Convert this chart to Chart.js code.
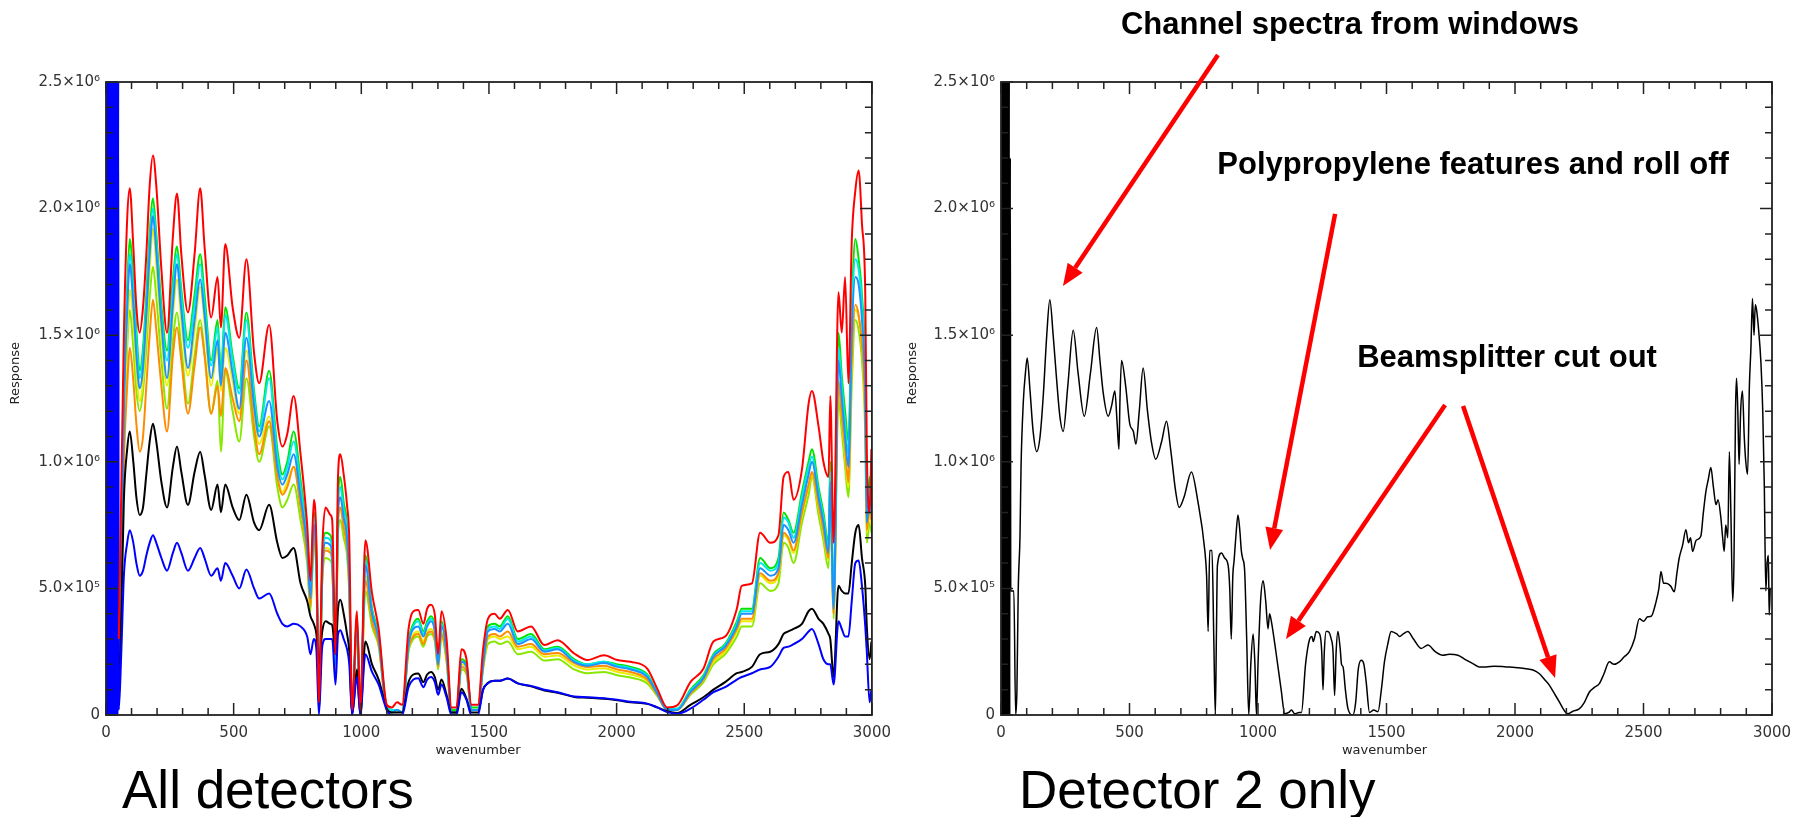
<!DOCTYPE html>
<html>
<head>
<meta charset="utf-8">
<title>Detector response spectra</title>
<script src="https://cdn.jsdelivr.net/npm/chart.js@4.4.1/dist/chart.umd.min.js"></script>
<style>
  html, body { margin: 0; padding: 0; background: #fff; }
  body { width: 1805px; height: 817px; position: relative; overflow: hidden; }
  canvas { position: absolute; top: 0; }
  #allChart { left: 0; }
  #det2Chart { left: 900px; }
  .caption { position: absolute; top: 763px; font-family: "Liberation Sans", Arial, sans-serif;
             font-size: 53px; line-height: 53px; color: #000; white-space: nowrap; }
</style>
</head>
<body>
<canvas id="allChart" width="900" height="817"></canvas>
<canvas id="det2Chart" width="905" height="817"></canvas>
<div class="caption" style="left:122px">All detectors</div>
<div class="caption" style="left:1019px">Detector 2 only</div>
<script>
// response values are in units of 1e6

// shared wavenumber grid for the all-detector traces
const wavenumber = [
  50, 60, 70, 83, 93, 107, 119, 132, 145, 158,
  171, 184, 197, 217, 239, 262, 278, 295, 321, 347,
  369, 386, 412, 437, 450, 467, 496, 522, 550, 580,
  600, 639, 671, 691, 710, 735, 762, 788, 801, 814,
  824, 834, 847, 860, 879, 886, 899, 909, 918, 931,
  944, 953, 964, 983, 996, 1016, 1042, 1068, 1100, 1120,
  1140, 1160, 1185, 1204, 1223, 1243, 1258, 1273, 1288, 1301,
  1314, 1334, 1353, 1373, 1392, 1412, 1431, 1457, 1477, 1496,
  1522, 1542, 1574, 1613, 1665, 1717, 1769, 1834, 1886, 1951,
  2003, 2055, 2120, 2159, 2198, 2237, 2289, 2340, 2379, 2425,
  2471, 2490, 2530, 2562, 2602, 2634, 2654, 2673, 2693, 2726,
  2752, 2765, 2791, 2810, 2830, 2837, 2850, 2869, 2882, 2895,
  2908, 2921, 2935, 2948, 2961, 2974, 2980, 2991, 2998
];

// one trace per detector, named by plot colour
const respRed = [
  0.30, 0.90, 1.50, 1.96, 2.08, 1.85, 1.61, 1.51, 1.61, 1.82,
  2.09, 2.21, 2.09, 1.76, 1.51, 1.89, 2.06, 1.82, 1.59, 1.82,
  2.08, 1.85, 1.57, 1.73, 1.53, 1.86, 1.61, 1.49, 1.80, 1.43,
  1.31, 1.54, 1.16, 1.06, 1.11, 1.26, 1.03, 0.75, 0.53, 0.85,
  0.69, 0.05, 0.65, 0.82, 0.79, 0.77, 0.24, 0.95, 1.03, 0.95,
  0.83, 0.69, 0.02, 0.41, 0.02, 0.69, 0.48, 0.34, 0.04, 0.03,
  0.05, 0.04, 0.34, 0.41, 0.415, 0.36, 0.42, 0.435, 0.395, 0.24,
  0.41, 0.30, 0.03, 0.03, 0.26, 0.22, 0.04, 0.04, 0.26, 0.38,
  0.40, 0.38, 0.415, 0.33, 0.35, 0.276, 0.295, 0.243, 0.217, 0.236,
  0.217, 0.21, 0.183, 0.104, 0.03, 0.038, 0.13, 0.183, 0.29, 0.31,
  0.42, 0.51, 0.52, 0.72, 0.68, 0.71, 0.94, 0.96, 0.85, 0.97,
  1.23, 1.28, 1.14, 1.00, 0.94, 1.26, 0.68, 1.67, 1.51, 1.73,
  1.31, 1.87, 2.07, 2.15, 1.94, 1.66, 1.05, 0.80, 1.05
];
const respGreen = [
  0.10, 0.60, 1.30, 1.69, 1.88, 1.72, 1.52, 1.36, 1.45, 1.66,
  1.90, 2.04, 1.90, 1.62, 1.44, 1.72, 1.85, 1.68, 1.48, 1.66,
  1.82, 1.66, 1.40, 1.56, 1.35, 1.61, 1.42, 1.29, 1.59, 1.28,
  1.14, 1.36, 1.05, 0.95, 1.00, 1.12, 0.93, 0.70, 0.50, 0.80,
  0.64, 0.03, 0.60, 0.72, 0.71, 0.66, 0.21, 0.86, 0.94, 0.84,
  0.75, 0.55, 0.01, 0.39, 0.01, 0.63, 0.42, 0.32, 0.03, 0.02,
  0.02, 0.01, 0.29, 0.36, 0.38, 0.33, 0.37, 0.39, 0.35, 0.21,
  0.37, 0.26, 0.02, 0.02, 0.22, 0.20, 0.03, 0.03, 0.22, 0.35,
  0.36, 0.35, 0.39, 0.30, 0.32, 0.26, 0.27, 0.22, 0.20, 0.21,
  0.20, 0.19, 0.16, 0.09, 0.025, 0.025, 0.10, 0.157, 0.24, 0.28,
  0.37, 0.42, 0.42, 0.62, 0.58, 0.62, 0.80, 0.77, 0.72, 0.88,
  1.00, 1.05, 0.90, 0.80, 0.68, 1.00, 0.45, 1.51, 1.34, 1.20,
  1.08, 1.60, 1.88, 1.80, 1.66, 1.34, 0.80, 0.94, 0.85
];
const respCyan = [
  0.10, 0.60, 1.25, 1.65, 1.82, 1.68, 1.48, 1.33, 1.42, 1.62,
  1.86, 2.00, 1.87, 1.58, 1.40, 1.68, 1.82, 1.65, 1.45, 1.62,
  1.78, 1.62, 1.38, 1.53, 1.33, 1.58, 1.40, 1.27, 1.56, 1.26,
  1.12, 1.33, 1.02, 0.93, 0.98, 1.08, 0.90, 0.68, 0.48, 0.78,
  0.62, 0.03, 0.58, 0.70, 0.69, 0.64, 0.20, 0.83, 0.90, 0.81,
  0.73, 0.53, 0.01, 0.38, 0.01, 0.61, 0.41, 0.31, 0.03, 0.02,
  0.02, 0.01, 0.28, 0.35, 0.37, 0.32, 0.36, 0.38, 0.34, 0.20,
  0.36, 0.25, 0.01, 0.01, 0.21, 0.19, 0.02, 0.02, 0.21, 0.34,
  0.35, 0.34, 0.38, 0.29, 0.31, 0.255, 0.265, 0.215, 0.20, 0.21,
  0.195, 0.185, 0.155, 0.088, 0.025, 0.025, 0.095, 0.15, 0.235, 0.275,
  0.36, 0.41, 0.41, 0.60, 0.57, 0.60, 0.78, 0.76, 0.70, 0.86,
  0.98, 1.02, 0.88, 0.78, 0.66, 0.96, 0.43, 1.45, 1.30, 1.15,
  1.03, 1.55, 1.80, 1.76, 1.62, 1.30, 0.78, 0.90, 0.82
];
const respAzure = [
  0.10, 0.55, 1.20, 1.60, 1.78, 1.62, 1.42, 1.29, 1.37, 1.58,
  1.82, 1.97, 1.83, 1.55, 1.33, 1.62, 1.78, 1.60, 1.37, 1.56,
  1.72, 1.58, 1.33, 1.48, 1.30, 1.51, 1.35, 1.21, 1.49, 1.22,
  1.10, 1.24, 0.98, 0.91, 0.95, 1.03, 0.86, 0.66, 0.46, 0.75,
  0.60, 0.02, 0.56, 0.68, 0.67, 0.62, 0.20, 0.80, 0.86, 0.78,
  0.70, 0.52, 0.01, 0.37, 0.01, 0.59, 0.40, 0.30, 0.02, 0.01,
  0.02, 0.01, 0.28, 0.34, 0.35, 0.31, 0.35, 0.37, 0.33, 0.20,
  0.35, 0.25, 0.01, 0.01, 0.21, 0.19, 0.02, 0.02, 0.20, 0.33,
  0.34, 0.33, 0.36, 0.28, 0.30, 0.25, 0.26, 0.21, 0.195, 0.205,
  0.19, 0.18, 0.15, 0.085, 0.02, 0.02, 0.09, 0.145, 0.23, 0.27,
  0.35, 0.40, 0.40, 0.58, 0.55, 0.58, 0.75, 0.73, 0.68, 0.83,
  0.95, 1.00, 0.86, 0.76, 0.64, 0.92, 0.42, 1.40, 1.25, 1.10,
  0.98, 1.50, 1.73, 1.70, 1.56, 1.25, 0.76, 0.86, 0.80
];
const respYellow = [
  0.05, 0.50, 1.10, 1.50, 1.68, 1.55, 1.36, 1.24, 1.32, 1.52,
  1.76, 1.92, 1.78, 1.50, 1.30, 1.58, 1.72, 1.56, 1.34, 1.52,
  1.69, 1.55, 1.30, 1.45, 1.28, 1.45, 1.32, 1.19, 1.44, 1.18,
  1.07, 1.18, 0.95, 0.88, 0.92, 0.98, 0.83, 0.64, 0.44, 0.72,
  0.58, 0.02, 0.55, 0.66, 0.65, 0.60, 0.19, 0.77, 0.82, 0.75,
  0.67, 0.50, 0.01, 0.35, 0.01, 0.55, 0.38, 0.29, 0.02, 0.01,
  0.02, 0.01, 0.26, 0.32, 0.33, 0.29, 0.33, 0.34, 0.31, 0.19,
  0.33, 0.23, 0.01, 0.01, 0.20, 0.18, 0.02, 0.02, 0.19, 0.30,
  0.31, 0.30, 0.31, 0.26, 0.27, 0.23, 0.235, 0.195, 0.18, 0.185,
  0.17, 0.16, 0.135, 0.08, 0.02, 0.02, 0.085, 0.14, 0.21, 0.25,
  0.33, 0.37, 0.37, 0.55, 0.52, 0.55, 0.71, 0.69, 0.64, 0.79,
  0.90, 0.95, 0.82, 0.72, 0.61, 0.86, 0.40, 1.30, 1.17, 1.02,
  0.90, 1.38, 1.60, 1.57, 1.45, 1.16, 0.72, 0.80, 0.75
];
const respOrange = [
  0.05, 0.50, 1.00, 1.30, 1.45, 1.32, 1.15, 1.04, 1.10, 1.30,
  1.50, 1.64, 1.52, 1.30, 1.12, 1.42, 1.53, 1.40, 1.19, 1.38,
  1.53, 1.42, 1.19, 1.30, 1.18, 1.37, 1.25, 1.16, 1.40, 1.14,
  1.03, 1.16, 0.94, 0.87, 0.90, 0.98, 0.82, 0.63, 0.43, 0.70,
  0.57, 0.02, 0.54, 0.65, 0.64, 0.60, 0.18, 0.76, 0.82, 0.74,
  0.66, 0.50, 0.01, 0.35, 0.01, 0.53, 0.37, 0.28, 0.02, 0.01,
  0.02, 0.01, 0.26, 0.31, 0.32, 0.28, 0.32, 0.33, 0.30, 0.19,
  0.32, 0.22, 0.01, 0.01, 0.19, 0.17, 0.02, 0.02, 0.19, 0.31,
  0.32, 0.31, 0.33, 0.27, 0.28, 0.24, 0.245, 0.205, 0.19, 0.195,
  0.18, 0.17, 0.14, 0.08, 0.02, 0.02, 0.085, 0.14, 0.22, 0.26,
  0.34, 0.38, 0.38, 0.56, 0.53, 0.56, 0.72, 0.70, 0.65, 0.80,
  0.91, 0.96, 0.83, 0.73, 0.62, 0.88, 0.40, 1.32, 1.18, 1.05,
  0.92, 1.40, 1.62, 1.58, 1.46, 1.18, 0.73, 0.82, 0.77
];
const respLime = [
  0.05, 0.50, 1.05, 1.45, 1.60, 1.45, 1.28, 1.20, 1.28, 1.45,
  1.65, 1.77, 1.65, 1.40, 1.21, 1.48, 1.59, 1.45, 1.23, 1.42,
  1.56, 1.43, 1.19, 1.32, 1.04, 1.36, 1.20, 1.08, 1.33, 1.10,
  1.00, 1.14, 0.90, 0.82, 0.85, 0.91, 0.77, 0.60, 0.41, 0.68,
  0.55, 0.02, 0.52, 0.62, 0.61, 0.58, 0.17, 0.72, 0.77, 0.70,
  0.63, 0.47, 0.01, 0.33, 0.01, 0.49, 0.35, 0.27, 0.02, 0.01,
  0.02, 0.01, 0.25, 0.30, 0.31, 0.27, 0.31, 0.32, 0.29, 0.18,
  0.31, 0.21, 0.01, 0.01, 0.18, 0.16, 0.02, 0.02, 0.18, 0.28,
  0.29, 0.28, 0.29, 0.24, 0.25, 0.215, 0.22, 0.18, 0.165, 0.17,
  0.157, 0.148, 0.125, 0.075, 0.02, 0.02, 0.08, 0.13, 0.20, 0.24,
  0.31, 0.35, 0.35, 0.52, 0.49, 0.52, 0.68, 0.66, 0.60, 0.76,
  0.87, 0.94, 0.79, 0.69, 0.58, 0.82, 0.38, 1.25, 1.12, 0.98,
  0.86, 1.30, 1.56, 1.52, 1.40, 1.10, 0.68, 0.76, 0.72
];
const respBlack = [
  0.05, 0.40, 0.85, 1.05, 1.12, 1.00, 0.86, 0.79, 0.82, 0.95,
  1.08, 1.15, 1.08, 0.92, 0.82, 0.98, 1.06, 0.96, 0.83, 0.96,
  1.04, 0.95, 0.81, 0.91, 0.80, 0.91, 0.82, 0.77, 0.87, 0.76,
  0.73, 0.83, 0.68, 0.62, 0.63, 0.66, 0.52, 0.45, 0.39, 0.36,
  0.32, 0.20, 0.33, 0.37, 0.36, 0.355, 0.24, 0.42, 0.455, 0.40,
  0.32, 0.25, 0.00, 0.18, 0.00, 0.29, 0.20, 0.14, 0.025, 0.01,
  0.01, 0.01, 0.13, 0.16, 0.164, 0.13, 0.16, 0.17, 0.15, 0.10,
  0.14, 0.08, 0.01, 0.01, 0.104, 0.065, 0.01, 0.01, 0.10, 0.127,
  0.135, 0.135, 0.144, 0.125, 0.113, 0.097, 0.088, 0.071, 0.068, 0.064,
  0.058, 0.05, 0.044, 0.03, 0.015, 0.008, 0.04, 0.07, 0.10, 0.13,
  0.165, 0.17, 0.19, 0.24, 0.25, 0.28, 0.32, 0.33, 0.34, 0.36,
  0.41, 0.42, 0.38, 0.36, 0.32, 0.30, 0.15, 0.51, 0.49, 0.48,
  0.48, 0.60, 0.72, 0.75, 0.62, 0.51, 0.35, 0.22, 0.29
];
const respBlue = [
  0.02, 0.25, 0.55, 0.68, 0.73, 0.68, 0.60, 0.55, 0.57, 0.63,
  0.68, 0.71, 0.68, 0.62, 0.57, 0.64, 0.68, 0.64, 0.57, 0.62,
  0.66, 0.62, 0.55, 0.58, 0.53, 0.60, 0.55, 0.50, 0.575, 0.50,
  0.46, 0.48, 0.40, 0.36, 0.35, 0.36, 0.35, 0.31, 0.24, 0.30,
  0.26, 0.00, 0.27, 0.30, 0.30, 0.30, 0.12, 0.32, 0.335, 0.30,
  0.26, 0.20, 0.00, 0.15, 0.00, 0.24, 0.17, 0.12, 0.02, 0.00,
  0.00, 0.00, 0.11, 0.14, 0.145, 0.11, 0.14, 0.15, 0.13, 0.08,
  0.12, 0.07, 0.00, 0.00, 0.09, 0.06, 0.00, 0.00, 0.10, 0.125,
  0.135, 0.135, 0.144, 0.125, 0.115, 0.10, 0.09, 0.073, 0.07, 0.066,
  0.06, 0.052, 0.045, 0.03, 0.012, 0.005, 0.025, 0.06, 0.09, 0.11,
  0.14, 0.15, 0.165, 0.18, 0.19, 0.23, 0.265, 0.27, 0.28, 0.30,
  0.33, 0.34, 0.28, 0.22, 0.20, 0.20, 0.12, 0.37, 0.34, 0.31,
  0.31, 0.45, 0.60, 0.61, 0.51, 0.35, 0.25, 0.05, 0.10
];

// saturated noise below 50 cm-1 on the blue channel
const blueNoiseWn = [0, 3, 6, 9, 12, 15, 18, 21, 24, 27, 30, 33, 36, 39, 42, 45, 48];
const blueNoiseResp = [2.5, 0, 2.5, 0, 2.5, 0, 2.5, 0, 2.5, 0, 2.5, 0, 2.5, 0, 2.5, 0, 2.5];

// detector 2 on its own
const det2Wn = [
  0, 2, 4, 6, 8, 10, 12, 14, 16, 18, 20, 22, 24, 26, 28, 30, 32, 34,
  36, 38, 50, 57, 62, 67, 74, 78, 87, 95,
  102, 113, 125, 139, 152, 165, 178, 190, 203, 216,
  229, 242, 260, 281, 300, 324, 348, 372, 385, 398,
  417, 430, 443, 452, 459, 463, 469, 485, 501, 515,
  525, 538, 553, 570, 585, 602, 625, 644, 660, 680,
  693, 712, 741, 765, 793, 800, 806, 812, 821, 828,
  834, 838, 842, 858, 870, 884, 890, 896, 902, 907,
  915, 922, 930, 935, 940, 948, 956, 964, 972, 981,
  988, 994, 1000, 1010, 1020, 1030, 1039, 1045, 1052, 1071,
  1090, 1104, 1120, 1130, 1143, 1160, 1169, 1185, 1201, 1210,
  1215, 1227, 1240, 1248, 1253, 1258, 1265, 1272, 1285, 1292,
  1298, 1304, 1311, 1320, 1325, 1331, 1340, 1350, 1369, 1380,
  1390, 1402, 1412, 1421, 1434, 1450, 1467, 1480, 1492, 1505,
  1518, 1540, 1551, 1565, 1583, 1605, 1635, 1661, 1690, 1719,
  1745, 1778, 1805, 1836, 1860, 1888, 1920, 1966, 2000, 2043,
  2070, 2095, 2115, 2134, 2150, 2173, 2190, 2205, 2225, 2251,
  2270, 2289, 2310, 2328, 2345, 2367, 2385, 2406, 2425, 2445,
  2465, 2484, 2500, 2516, 2530, 2549, 2560, 2568, 2578, 2587,
  2605, 2620, 2630, 2639, 2652, 2665, 2675, 2683, 2691, 2705,
  2723, 2733, 2743, 2752, 2762, 2772, 2782, 2790, 2801, 2808,
  2814, 2820, 2828, 2834, 2840, 2847, 2852, 2858, 2862, 2867,
  2872, 2878, 2885, 2892, 2898, 2905, 2912, 2918, 2924, 2930,
  2935, 2940, 2948, 2957, 2964, 2970, 2976, 2981, 2986, 2989,
  2993
];
const det2Resp = [
  2.5, 0, 2.5, 0, 2.5, 0, 2.5, 0, 2.5, 0, 2.5, 0, 2.5, 0, 2.5, 0, 2.5, 0,
  2.2, 0.49, 0.49, 0.0, 0.1, 0.49, 0.71, 0.98, 1.24, 1.35,
  1.41, 1.28, 1.12, 1.04, 1.10, 1.27, 1.50, 1.64, 1.50, 1.33,
  1.18, 1.12, 1.30, 1.52, 1.35, 1.18, 1.35, 1.53, 1.40, 1.27,
  1.18, 1.22, 1.28, 1.15, 1.05, 1.25, 1.40, 1.30, 1.15, 1.12,
  1.07, 1.20, 1.37, 1.20, 1.08, 1.01, 1.08, 1.16, 1.05, 0.88,
  0.82, 0.86, 0.96, 0.85, 0.65, 0.55, 0.33, 0.65, 0.65, 0.30,
  0.0, 0.30, 0.59, 0.64, 0.62, 0.59, 0.50, 0.30, 0.55, 0.61,
  0.72, 0.79, 0.72, 0.65, 0.62, 0.57, 0.30, 0.0, 0.20, 0.32,
  0.20, 0.0, 0.20, 0.45, 0.53, 0.45, 0.34, 0.40, 0.37, 0.24,
  0.10, 0.005, 0.01, 0.02, 0.005, 0.01, 0.01, 0.20, 0.30, 0.31,
  0.29, 0.33, 0.32, 0.25, 0.10, 0.25, 0.33, 0.33, 0.30, 0.25,
  0.077, 0.25, 0.33, 0.26, 0.20, 0.19, 0.10, 0.025, 0.0, 0.05,
  0.18, 0.216, 0.20, 0.13, 0.01, 0.02, 0.013, 0.10, 0.21, 0.28,
  0.33, 0.32, 0.31, 0.32, 0.33, 0.30, 0.263, 0.276, 0.25, 0.236,
  0.24, 0.236, 0.22, 0.203, 0.19, 0.19, 0.193, 0.19, 0.188, 0.183,
  0.178, 0.163, 0.14, 0.117, 0.09, 0.051, 0.02, 0.005, 0.015, 0.025,
  0.05, 0.09, 0.11, 0.124, 0.16, 0.21, 0.20, 0.21, 0.23, 0.25,
  0.30, 0.38, 0.37, 0.388, 0.39, 0.448, 0.50, 0.567, 0.52, 0.52,
  0.51, 0.487, 0.56, 0.62, 0.67, 0.732, 0.68, 0.70, 0.646, 0.69,
  0.706, 0.80, 0.884, 0.93, 0.977, 0.90, 0.831, 0.85, 0.779, 0.70,
  0.646, 0.75, 0.70, 1.04, 0.80, 0.448, 0.60, 1.20, 1.33, 1.20,
  0.99, 1.20, 1.28, 1.10, 1.00, 0.95, 1.30, 1.45, 1.645, 1.50,
  1.62, 1.60, 1.52, 1.39, 1.20, 0.91, 0.49, 0.60, 0.63, 0.395,
  0.50
];

// callouts on the detector 2 panel, in data units (wavenumber, response)
const callouts = [
  { text: 'Channel spectra from windows', at: [1358, 2.725], arrows: [[[844, 2.607], [241, 1.694]]] },
  { text: 'Polypropylene features and roll off', at: [1837, 2.172], arrows: [[[1300, 1.979], [1047, 0.652]]] },
  { text: 'Beamsplitter cut out', at: [1969, 1.41],
    arrows: [[[1728, 1.224], [1109, 0.30]], [[1798, 1.22], [2156, 0.146]]] }
];

function toPoints(xs, ys) {
  return xs.map((x, i) => ({ x: x, y: ys[i] }));
}

function sciLabel(v) {
  const tenths = Math.round(v * 10);
  if (tenths === 0) return '0';
  if (tenths % 5 !== 0) return '';
  return tenths >= 10 ? (tenths / 10).toFixed(1) + '×10⁶' : tenths.toFixed(1) + '×10⁵';
}

// IDL-style box: frame on all four sides, inward major/minor ticks, axis titles
const boxTicks = {
  id: 'boxTicks',
  afterDatasetsDraw(chart, args, opts) {
    const { ctx, chartArea: a, scales: { x, y } } = chart;
    ctx.save();
    ctx.strokeStyle = '#222';
    ctx.lineWidth = 1.5;
    ctx.beginPath();
    x.ticks.forEach(t => {
      const px = x.getPixelForValue(t.value);
      const len = Math.round(t.value) % 500 === 0 ? 12 : 7;
      ctx.moveTo(px, a.bottom); ctx.lineTo(px, a.bottom - len);
      ctx.moveTo(px, a.top); ctx.lineTo(px, a.top + len);
    });
    y.ticks.forEach(t => {
      const py = y.getPixelForValue(t.value);
      const len = Math.round(t.value * 10) % 5 === 0 ? 12 : 7;
      ctx.moveTo(a.left, py); ctx.lineTo(a.left + len, py);
      ctx.moveTo(a.right, py); ctx.lineTo(a.right - len, py);
    });
    ctx.stroke();
    ctx.lineWidth = 1.8;
    ctx.strokeRect(a.left, a.top, a.right - a.left, a.bottom - a.top);

    ctx.fillStyle = '#222';
    ctx.font = '13px "DejaVu Sans"';
    ctx.textAlign = 'center';
    ctx.textBaseline = 'middle';
    ctx.fillText('wavenumber', (a.left + a.right) / 2 - opts.titleShift, a.bottom + 36);
    ctx.translate(a.left - opts.yTitleGap, a.top + (a.bottom - a.top) * 0.46);
    ctx.rotate(-Math.PI / 2);
    ctx.fillText('Response', 0, 0);
    ctx.restore();
  }
};

function drawArrow(ctx, x0, y0, x1, y1) {
  const ang = Math.atan2(y1 - y0, x1 - x0);
  const head = 22, half = 9;
  const bx = x1 - head * Math.cos(ang), by = y1 - head * Math.sin(ang);
  ctx.beginPath();
  ctx.moveTo(x0, y0);
  ctx.lineTo(bx, by);
  ctx.stroke();
  ctx.beginPath();
  ctx.moveTo(x1, y1);
  ctx.lineTo(bx + half * Math.sin(ang), by - half * Math.cos(ang));
  ctx.lineTo(bx - half * Math.sin(ang), by + half * Math.cos(ang));
  ctx.closePath();
  ctx.fill();
}

const calloutPlugin = {
  id: 'callouts',
  afterDraw(chart) {
    const { ctx, scales: { x, y } } = chart;
    ctx.save();
    ctx.strokeStyle = '#ff0000';
    ctx.fillStyle = '#ff0000';
    ctx.lineWidth = 4.5;
    ctx.lineCap = 'butt';
    callouts.forEach(c => c.arrows.forEach(([from, to]) => {
      drawArrow(ctx, x.getPixelForValue(from[0]), y.getPixelForValue(from[1]),
                x.getPixelForValue(to[0]), y.getPixelForValue(to[1]));
    }));
    ctx.fillStyle = '#000';
    ctx.font = 'bold 31px "Liberation Sans", Arial, sans-serif';
    ctx.textAlign = 'center';
    ctx.textBaseline = 'middle';
    callouts.forEach(c => {
      ctx.fillText(c.text, x.getPixelForValue(c.at[0]), y.getPixelForValue(c.at[1]));
    });
    ctx.restore();
  }
};

function spectrumOptions(padRight, axisWidth, titleShift, yTitleGap) {
  return {
    responsive: false,
    animation: false,
    events: [],
    layout: { padding: { left: 0, top: 82, right: padRight, bottom: 0 } },
    elements: { point: { radius: 0 }, line: { cubicInterpolationMode: 'monotone' } },
    plugins: {
      legend: { display: false },
      tooltip: { enabled: false },
      boxTicks: { titleShift: titleShift, yTitleGap: yTitleGap }
    },
    scales: {
      x: {
        type: 'linear', min: 0, max: 3000,
        grid: { display: false, drawTicks: false },
        border: { display: false },
        ticks: {
          stepSize: 100, autoSkip: false, maxRotation: 0, padding: 9,
          color: '#333', font: { family: 'DejaVu Sans', size: 15 },
          callback: v => Math.round(v) % 500 === 0 ? String(Math.round(v)) : ''
        },
        afterFit(s) { s.height = 102; }
      },
      y: {
        type: 'linear', min: 0, max: 2.5,
        grid: { display: false, drawTicks: false },
        border: { display: false },
        ticks: {
          stepSize: 0.1, autoSkip: false, padding: 6,
          color: '#333', font: { family: 'DejaVu Sans', size: 15 },
          callback: sciLabel
        },
        afterFit(s) { s.width = axisWidth; }
      }
    }
  };
}

function trace(values, color, xs) {
  return {
    data: toPoints(xs || wavenumber, values),
    borderColor: color,
    borderWidth: 2,
    fill: false
  };
}

// first dataset is drawn on top
new Chart(document.getElementById('allChart'), {
  type: 'line',
  data: {
    datasets: [
      trace(respRed, '#ff0000'),
      trace(blueNoiseResp.concat(respBlue), '#0000ff', blueNoiseWn.concat(wavenumber)),
      trace(respBlack, '#000000'),
      trace(respAzure, '#1e90ff'),
      trace(respCyan, '#00e8f0'),
      trace(respGreen, '#00e400'),
      trace(respOrange, '#ff8c00'),
      trace(respYellow, '#ecec00'),
      trace(respLime, '#88e800')
    ]
  },
  options: spectrumOptions(24, 106, 11, 90),
  plugins: [boxTicks]
});

new Chart(document.getElementById('det2Chart'), {
  type: 'line',
  data: {
    datasets: [{
      data: toPoints(det2Wn, det2Resp),
      borderColor: '#000000',
      borderWidth: 1.5,
      fill: false
    }]
  },
  options: spectrumOptions(33, 101, 2, 88),
  plugins: [boxTicks, calloutPlugin]
});
</script>
</body>
</html>
